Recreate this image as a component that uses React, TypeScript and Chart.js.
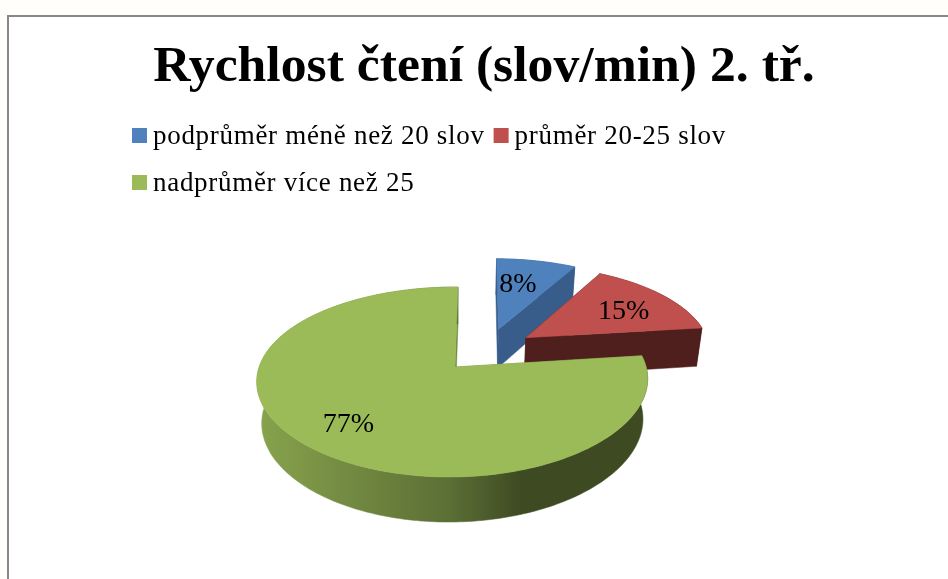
import React, { useEffect, useRef } from "react";
import { Chart, registerables } from "chart.js";

Chart.register(...registerables);

const titleText = "Rychlost čtení (slov/min) 2. tř.";
const categories = ["podprůměr méně než 20 slov", "průměr 20-25 slov", "nadprůměr více než 25"];
const shares = [8, 15, 77];
const topColors = ["#4f81bd", "#c0504d", "#9bbb59"];
const cutColors = ["#385d8a", "#4f1f1d", "#6f8a3e"];
const labelRadiusFractions = [0.62, 0.66, 0.75];
const labelAngleFractions = [0.4, 0.58, 0.5];

const FONT = '"Liberation Serif", serif';
const RADIUS = 100;
const EXPLODE = 25.5;

// Perspective of the pie plane, anchored on the apex of the largest slice.
const VIEW = { x0: 455, y0: 367, B: 193.5, A: 92.6, H: 41.8, k: 0.158, kx: 0.14, s: 3, m: 0.012, d: 0.025 };
const project = (u: number, v: number, z: number) => {
  const w = 1 - VIEW.k * v + VIEW.m * u + VIEW.d * z;
  const wx = 1 - VIEW.kx * v + VIEW.m * u + VIEW.d * z;
  return { x: VIEW.x0 + (VIEW.B * u) / wx - VIEW.s * v, y: VIEW.y0 + (VIEW.A * v + VIEW.H * z) / w };
};

function slices(chart: any) {
  const arcs = chart.getDatasetMeta(0).data;
  const raw = arcs.map((arc: any) => {
    const mid = (arc.startAngle + arc.endAngle) / 2;
    const e = arc.options.offset / arc.outerRadius;
    return { start: arc.startAngle, end: arc.endAngle, mid, cu: e * Math.cos(mid), cv: e * Math.sin(mid) };
  });
  let anchor = raw[0];
  raw.forEach((s: any) => {
    if (s.end - s.start > anchor.end - anchor.start) anchor = s;
  });
  return raw.map((s: any) => ({ ...s, cu: s.cu - anchor.cu, cv: s.cv - anchor.cv }));
}

function rim(s: any, z: number) {
  const pts = [];
  const n = Math.max(4, Math.ceil((s.end - s.start) / 0.02));
  for (let i = 0; i <= n; i++) {
    const a = s.start + ((s.end - s.start) * i) / n;
    pts.push(project(s.cu + Math.cos(a), s.cv + Math.sin(a), z));
  }
  return pts;
}

function fillPoly(ctx: CanvasRenderingContext2D, pts: any[], fill: any) {
  ctx.beginPath();
  pts.forEach((p, i) => (i ? ctx.lineTo(p.x, p.y) : ctx.moveTo(p.x, p.y)));
  ctx.closePath();
  ctx.fillStyle = fill;
  ctx.fill();
  ctx.strokeStyle = fill;
  ctx.lineWidth = 0.5;
  ctx.stroke();
}

const pie3d = {
  id: "pie3d",
  beforeDatasetsDraw(chart: any) {
    const ctx: CanvasRenderingContext2D = chart.ctx;
    const all = slices(chart);
    ctx.save();
    all.forEach((s: any, idx: number) => {
      const top = rim(s, 0);
      const bottom = rim(s, 1);
      const apexTop = project(s.cu, s.cv, 0);
      const apexBottom = project(s.cu, s.cv, 1);
      fillPoly(ctx, [apexTop, top[0], bottom[0], apexBottom], cutColors[idx]);
      fillPoly(ctx, [apexTop, top[top.length - 1], bottom[bottom.length - 1], apexBottom], cutColors[idx]);
      let wall: any = cutColors[idx];
      if (idx === 2) {
        wall = ctx.createLinearGradient(255, 0, 647, 0);
        wall.addColorStop(0, "#88a44d");
        wall.addColorStop(0.5, "#5b6e35");
        wall.addColorStop(0.68, "#3e4a22");
        wall.addColorStop(1, "#3e4a22");
      }
      fillPoly(ctx, [...top, ...bottom.slice().reverse()], wall);
      fillPoly(ctx, [apexTop, ...top], topColors[idx]);
    });
    ctx.restore();
    return false;
  },
  afterDraw(chart: any) {
    const ctx: any = chart.ctx;
    ctx.save();
    ctx.fillStyle = "#000";
    ctx.font = `28px ${FONT}`;
    ctx.textAlign = "center";
    ctx.textBaseline = "middle";
    slices(chart).forEach((s: any, i: number) => {
      const f = labelRadiusFractions[i];
      const a = s.start + (s.end - s.start) * labelAngleFractions[i];
      const p = project(s.cu + f * Math.cos(a), s.cv + f * Math.sin(a), 0);
      ctx.fillText(`${shares[i]}%`, p.x, p.y);
    });
    // legend: two rows, flowing from the left edge
    ctx.font = `27px ${FONT}`;
    ctx.letterSpacing = "0.7px";
    ctx.textAlign = "left";
    ctx.textBaseline = "alphabetic";
    let x = 132;
    let y = 144;
    categories.forEach((label, i) => {
      const w = 15 + 6 + ctx.measureText(label).width;
      if (x + w > 740) {
        x = 132;
        y += 47;
      }
      ctx.fillStyle = topColors[i];
      ctx.fillRect(x, y - 16, 15, 15);
      ctx.fillStyle = "#000";
      ctx.fillText(label, x + 21, y);
      x += w + 9;
    });
    ctx.restore();
  },
};

export default function App() {
  const ref = useRef<HTMLCanvasElement>(null);
  useEffect(() => {
    document.body.style.margin = "0";
    const chart = new Chart(ref.current as HTMLCanvasElement, {
      type: "pie",
      data: {
        labels: categories,
        datasets: [{ data: shares, backgroundColor: topColors, borderWidth: 0, offset: EXPLODE }],
      },
      options: {
        responsive: false,
        animation: false,
        radius: RADIUS,
        layout: { padding: { left: 20, top: 37 } },
        events: [],
        plugins: {
          legend: { display: false },
          tooltip: { enabled: false },
          title: {
            display: true,
            text: titleText,
            color: "#000",
            font: { family: FONT, size: 51.7, weight: "bold" },
            padding: { top: 0, bottom: 10 },
          },
        },
      } as any,
      plugins: [pie3d],
    });
    return () => chart.destroy();
  }, []);
  return (
    <div style={{ position: "relative", width: 948, height: 579, overflow: "hidden", background: "#fffefb" }}>
      <div
        style={{
          position: "absolute",
          left: 7,
          top: 15,
          width: 960,
          height: 600,
          background: "#fff",
          borderLeft: "2px solid #888",
          borderTop: "2px solid #888",
        }}
      />
      <canvas ref={ref} width={948} height={579} style={{ position: "absolute", left: 0, top: 0, display: "block" }} />
    </div>
  );
}
